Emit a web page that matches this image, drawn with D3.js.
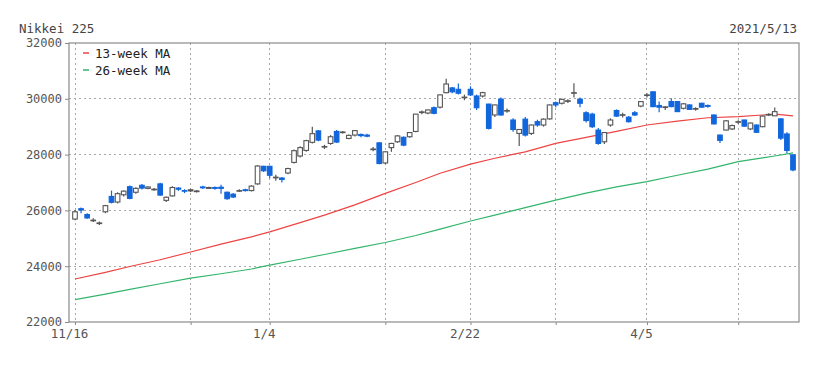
<!DOCTYPE html>
<html><head><meta charset="utf-8">
<script src="https://cdn.jsdelivr.net/npm/d3@7/dist/d3.min.js"></script>
<style>
body{margin:0;background:#fff;}
svg{display:block;}
text{font-family:"DejaVu Sans Mono",monospace;}
</style></head>
<body><svg id="chart" width="823" height="365"></svg>
<script>
const dates = ["11/16","11/17","11/18","11/19","11/20","11/24","11/25","11/26","11/27","11/30",
"12/1","12/2","12/3","12/4","12/7","12/8","12/9","12/10","12/11","12/14","12/15","12/16","12/17","12/18",
"12/21","12/22","12/23","12/24","12/25","12/28","12/29","12/30",
"1/4","1/5","1/6","1/7","1/8","1/12","1/13","1/14","1/15","1/18","1/19","1/20","1/21","1/22",
"1/25","1/26","1/27","1/28","1/29","2/1","2/2","2/3","2/4","2/5","2/8","2/9","2/10","2/12",
"2/15","2/16","2/17","2/18","2/19","2/22","2/24","2/25","2/26","3/1","3/2","3/3","3/4","3/5",
"3/8","3/9","3/10","3/11","3/12","3/15","3/16","3/17","3/18","3/19","3/22","3/23","3/24","3/25","3/26",
"3/29","3/30","3/31","4/1","4/2","4/5","4/6","4/7","4/8","4/9","4/12","4/13","4/14","4/15","4/16",
"4/19","4/20","4/21","4/22","4/23","4/26","4/27","4/28","4/30","5/6","5/7","5/10","5/11","5/12","5/13"];

const open = [25690,26060,25850,25640,25540,25950,26500,26300,26560,26850,
26650,26900,26790,26750,26950,26360,26520,26800,26710,26700,26690,26840,26790,26820,
26830,26650,26580,26700,26740,26710,26950,27580,
27580,27180,27160,27340,27720,27950,28150,28440,28850,28280,28400,28830,28800,28580,
28700,28720,28700,28180,28420,27700,28250,28460,28620,28640,28830,29520,29490,29680,
29700,30220,30390,30340,30050,30340,30100,30100,29810,29420,29990,29570,29240,28760,
29270,28760,29180,29060,29280,29860,29840,29920,30210,29990,29500,29450,28880,28460,29060,
29580,29420,29340,29500,29740,30130,30250,29760,29700,29900,29900,29660,29780,29640,29840,
29760,29420,28700,28880,28920,29170,29240,28920,29060,29000,29430,29390,29280,28740,27990];

const high = [26010,26100,25900,25720,25600,26200,26710,26650,26720,26890,
26830,26950,26860,26800,26990,26500,26870,26830,26760,26780,26730,26880,26850,26860,
26920,26680,26620,26760,26780,26900,27620,27600,
27600,27280,27200,27530,28180,28300,28530,29000,28880,28350,28700,28880,28850,28720,
28880,28760,28750,28270,28450,28120,28420,28700,28650,28800,29450,29580,29620,29720,
30150,30720,30420,30550,30150,30450,30150,30250,29820,29800,30050,29650,29300,28900,
29350,29080,29250,29300,29800,29900,30000,29980,30560,30050,29550,29500,28950,28800,29300,
29620,29500,29380,29560,29910,30200,30260,29900,29740,30020,29920,29850,29800,29700,29860,
29800,29430,28720,29240,29080,29230,29250,29150,29080,29400,29480,29690,29300,28800,28000];

const low = [25650,25900,25700,25580,25480,25900,26250,26250,26500,26400,
26600,26750,26760,26700,26520,26300,26500,26700,26620,26660,26640,26770,26770,26740,
26600,26380,26440,26660,26680,26680,26920,27380,
27150,27060,27000,27300,27680,27900,28100,28400,28480,28200,28350,28420,28760,28550,
28650,28620,28620,28120,27650,27650,28100,28420,28300,28600,28800,29450,29450,29450,
29650,30200,30200,30150,29950,30100,29600,30050,28900,29350,29400,29500,28820,28310,
28650,28700,29000,29000,29250,29700,29800,29850,30050,29700,29150,28950,28350,28380,29000,
29350,29330,29150,29380,29700,30050,29700,29520,29600,29700,29530,29620,29600,29570,29680,
29680,29080,28420,28860,28880,29100,29000,28880,28780,28980,29380,29380,28520,28050,27400];

const close = [25950,26014,25730,25650,25550,26170,26290,26600,26690,26430,
26790,26800,26840,26760,26550,26470,26820,26760,26690,26740,26695,26810,26820,26790,
26790,26420,26480,26710,26710,26870,27590,27420,
27260,27190,27110,27500,28140,28250,28500,28750,28520,28290,28640,28450,28810,28690,
28860,28680,28660,28200,27680,28100,28400,28670,28340,28790,29450,29530,29600,29480,
30140,30530,30250,30200,30060,30140,29680,30220,28940,29780,29420,29580,28900,28900,
28700,29060,29060,29270,29780,29780,29980,29930,30220,29840,29220,29000,28400,28790,29240,
29380,29430,29180,29420,29900,30140,29720,29700,29710,29720,29540,29820,29620,29650,29700,
29730,29100,28510,29210,29040,29180,29020,29130,28800,29380,29440,29540,28590,28150,27450];

// moving averages, read at the first trading day of each week (and the last day)
const maDates = ["11/16","11/24","11/30","12/7","12/14","12/21","12/28","1/4","1/12","1/18","1/25",
"2/1","2/8","2/15","2/22","3/1","3/8","3/15","3/22","3/29","4/5","4/12","4/19","4/26","5/6","5/10","5/13"];
const ma13 = [23540,23780,23990,24230,24510,24790,25050,25230,25560,25830,26200,
26610,27000,27330,27660,27870,28100,28400,28620,28830,29060,29200,29320,29360,29420,29450,29390];
const ma26 = [22800,23000,23170,23370,23570,23730,23900,24040,24250,24420,24640,
24850,25100,25330,25620,25830,26100,26370,26620,26840,27030,27260,27480,27750,27880,27950,28060];

const yTicks = [22000,24000,26000,28000,30000,32000];
const gridDates = ["11/16","12/14","1/4","2/1","2/22","3/15","4/5","4/26"];
const labelDates = ["11/16","1/4","2/22","4/5"];
const title = "Nikkei 225";
const asOf = "2021/5/13";
const legendItems = [{name:"13-week MA", color:"#ee4444"},{name:"26-week MA", color:"#33b56c"}];

const svg = d3.select("#chart");
const L = 69, R = 799, T = 43, B = 322;
const x = d3.scalePoint().domain(dates).range([75, 793]);
const y = d3.scaleLinear().domain([22000, 32000]).range([B, T]);

const BLUE = "#1266dc", GRID = "#a8a8a8", FRAME = "#8a8a8a";

// grid
svg.append("g").selectAll("line.h").data(yTicks.filter(v => v > 22000 && v < 32000)).join("line")
  .attr("x1", L).attr("x2", R).attr("y1", d => y(d)).attr("y2", d => y(d))
  .attr("stroke", GRID).attr("stroke-dasharray", "2,3").attr("shape-rendering","crispEdges");
svg.append("g").selectAll("line.v").data(gridDates).join("line")
  .attr("x1", d => x(d)).attr("x2", d => x(d)).attr("y1", T).attr("y2", B)
  .attr("stroke", GRID).attr("stroke-dasharray", "2,3").attr("shape-rendering","crispEdges");

// y axis
const yAxis = svg.append("g").attr("transform", `translate(${L},0)`)
  .call(d3.axisLeft(y).tickValues(yTicks).tickSize(4).tickPadding(3).tickFormat(d3.format("d")));
yAxis.select(".domain").remove();
yAxis.selectAll("line").attr("stroke", FRAME);
yAxis.selectAll("text").attr("fill", "#555").attr("font-size", "12px")
  .attr("font-family", "DejaVu Sans Mono, monospace");

// x axis
const xAxis = svg.append("g").attr("transform", `translate(0,${B})`)
  .call(d3.axisBottom(x).tickValues(gridDates).tickSize(3).tickPadding(4)
    .tickFormat(d => labelDates.includes(d) ? d : ""));
xAxis.select(".domain").remove();
xAxis.selectAll("line").attr("stroke", FRAME);
xAxis.selectAll("text").attr("fill", "#555").attr("font-size", "12.5px").attr("dx", "-6")
  .attr("font-family", "DejaVu Sans, sans-serif");

// frame
svg.append("rect").attr("x", L).attr("y", T).attr("width", R - L).attr("height", B - T)
  .attr("fill", "none").attr("stroke", FRAME).attr("stroke-width", 1.2);

// MA lines
const maLine = arr => d3.line().x((d, i) => x(maDates[i])).y(d => y(d))(arr);
svg.append("path").attr("d", maLine(ma26)).attr("fill", "none")
  .attr("stroke", legendItems[1].color).attr("stroke-width", 1.2);
svg.append("path").attr("d", maLine(ma13)).attr("fill", "none")
  .attr("stroke", legendItems[0].color).attr("stroke-width", 1.2);

// candles
const candles = dates.map((d, i) => ({d, o: open[i], h: high[i], l: low[i], c: close[i]}));
const bw = 4.6;
const g = svg.append("g");
candles.forEach(k => {
  const up = k.c >= k.o;
  const col = up ? "#555" : BLUE;
  const cx = x(k.d);
  g.append("line").attr("x1", cx).attr("x2", cx).attr("y1", y(k.h)).attr("y2", y(k.l))
    .attr("stroke", col).attr("stroke-width", 1.2);
  const top = y(Math.max(k.o, k.c)), bot = y(Math.min(k.o, k.c));
  g.append("rect").attr("x", cx - bw / 2).attr("y", top).attr("width", bw)
    .attr("height", Math.max(bot - top, 0.6))
    .attr("fill", up ? "#fff" : BLUE).attr("stroke", col).attr("stroke-width", 1.1);
});

// title
svg.append("text").attr("x", 19).attr("y", 33).attr("fill", "#444").attr("font-size", "12.5px").text(title);
svg.append("text").attr("x", 797).attr("y", 33).attr("text-anchor", "end").attr("fill", "#444")
  .attr("font-size", "12.5px").text(asOf);

// legend
const lg = svg.append("g");
legendItems.forEach((it, i) => {
  const yy = 53 + i * 17;
  lg.append("line").attr("x1", 83).attr("x2", 89).attr("y1", yy).attr("y2", yy)
    .attr("stroke", it.color).attr("stroke-width", 1.5);
  lg.append("text").attr("x", 95).attr("y", yy + 4.5).attr("fill", "#222")
    .attr("font-size", "12.5px").text(it.name);
});
</script></body></html>
